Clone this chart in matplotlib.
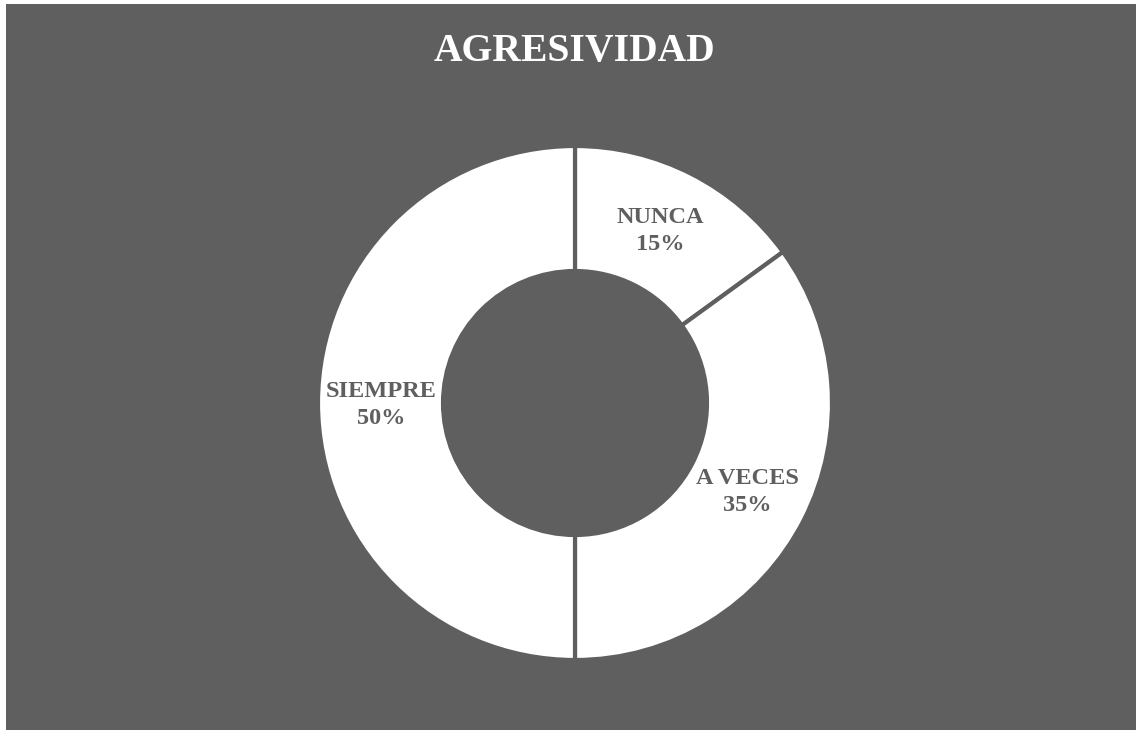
import matplotlib.pyplot as plt
from matplotlib.patches import Rectangle

categorias = ['NUNCA', 'A VECES', 'SIEMPRE']
porcentajes = [15, 35, 50]
titulo = 'AGRESIVIDAD'

gris = '#5f5f5f'
W, H = 1139, 730

fig = plt.figure(figsize=(W / 100, H / 100), dpi=100)
fig.patch.set_facecolor('white')
fig.patches.append(Rectangle((6 / W, 0), 1130 / W, 726 / H, transform=fig.transFigure,
                             facecolor=gris, edgecolor='none', zorder=-1))

# donut: center (575, 403), outer radius 257 px
r_out = 257
ax = fig.add_axes([(575 - r_out) / W, (H - 403 - r_out) / H, 2 * r_out / W, 2 * r_out / H])
ax.set_facecolor('none')
wedges, _ = ax.pie(porcentajes, startangle=90, counterclock=False, colors=['white'] * 3,
                   radius=1, wedgeprops=dict(width=1 - 132 / 257, edgecolor=gris, linewidth=3))
ax.set_xlim(-1, 1)
ax.set_ylim(-1, 1)
ax.set_aspect('equal')
ax.axis('off')

# label positions (pixels) of the category centers
pos = {'NUNCA': (660, 231), 'A VECES': (747, 492), 'SIEMPRE': (381, 405)}
for cat, p in zip(categorias, porcentajes):
    x, y = pos[cat]
    fig.text(x / W, 1 - y / H, f'{cat}\n{p}%', ha='center', va='center',
             family='Liberation Serif', fontweight='bold', fontsize=17.5,
             color=gris, linespacing=1.35)

fig.text(574 / W, 1 - 52 / H, titulo, ha='center', va='center', family='Liberation Serif',
         fontweight='bold', fontsize=28.5, color='white')

fig.savefig('out.png', dpi=100, facecolor=fig.get_facecolor())
